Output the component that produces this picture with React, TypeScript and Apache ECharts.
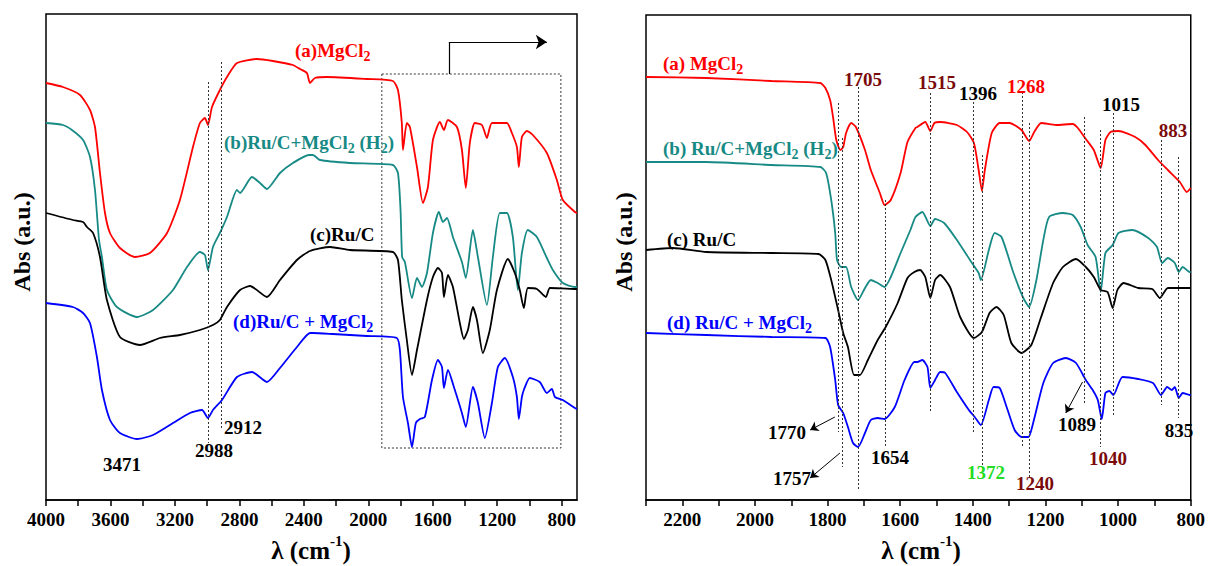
import React, { useEffect, useRef } from 'react';
import * as echarts from 'echarts';

type Pt = [number, number];

const FONT = "'Liberation Serif', 'Times New Roman', serif";
const RED = '#ff0000';
const TEAL = '#178a85';
const BLACK = '#000000';
const BLUE = '#0000ff';
const DARKRED = '#7a0a0a';
const GREEN = '#22dd22';

// tick labels
const leftTicks = [4000, 3600, 3200, 2800, 2400, 2000, 1600, 1200, 800];
const leftMinorTicks = [4000, 3800, 3600, 3400, 3200, 3000, 2800, 2600, 2400, 2200, 2000, 1800, 1600, 1400, 1200, 1000, 800];
const rightTicks = [2200, 2000, 1800, 1600, 1400, 1200, 1000, 800];
const rightMinorTicks = [2300, 2200, 2100, 2000, 1900, 1800, 1700, 1600, 1500, 1400, 1300, 1200, 1100, 1000, 900, 800];

// ---------- left panel spectra (wavenumber, absorbance a.u.) ----------
const redA_L: Pt[] = [
  [4000, 417], [3895, 413], [3789, 405], [3727, 390], [3696, 373], [3665, 327], [3634, 287], [3603, 267],
  [3541, 252], [3448, 243], [3355, 247], [3249, 267], [3169, 300], [3088, 353], [3045, 377], [3014, 382],
  [2995, 375], [2970, 393], [2921, 410], [2877, 423], [2815, 437], [2691, 441], [2592, 439], [2468, 435],
  [2424, 431], [2381, 427], [2362, 417], [2331, 422], [2257, 423], [2009, 421], [1847, 419], [1816, 410],
  [1792, 377], [1785, 350], [1761, 377], [1742, 373], [1698, 333], [1661, 297], [1630, 313], [1599, 360],
  [1556, 378], [1531, 370], [1506, 380], [1450, 373], [1419, 350], [1395, 312], [1370, 357], [1339, 377],
  [1295, 375], [1264, 362], [1233, 377], [1140, 377], [1109, 367], [1078, 353], [1066, 333], [1047, 363],
  [1016, 369], [979, 365], [892, 347], [830, 320], [793, 300], [718, 288], [705, 287],
];
const tealB_L: Pt[] = [
  [4000, 377], [3895, 375], [3839, 370], [3770, 360], [3727, 343], [3696, 310], [3671, 260], [3653, 243],
  [3622, 210], [3560, 193], [3435, 183], [3336, 190], [3212, 210], [3125, 233], [3045, 248], [3014, 245],
  [2995, 230], [2964, 253], [2921, 267], [2877, 283], [2815, 310], [2796, 307], [2722, 323], [2672, 317],
  [2629, 311], [2548, 327], [2468, 337], [2368, 345], [2344, 345], [2300, 340], [2114, 337], [1847, 335],
  [1816, 327], [1800, 290], [1790, 243], [1773, 238], [1729, 202], [1698, 222], [1667, 213], [1636, 227],
  [1599, 267], [1562, 288], [1537, 278], [1512, 282], [1475, 263], [1419, 238], [1395, 222], [1351, 270],
  [1320, 243], [1264, 195], [1227, 243], [1184, 287], [1140, 287], [1103, 263], [1072, 210], [1047, 247],
  [1010, 270], [954, 263], [892, 242], [855, 230], [793, 217], [718, 213], [705, 213],
];
const blackC_L: Pt[] = [
  [4000, 287], [3833, 280], [3770, 278], [3746, 273], [3708, 267], [3665, 243], [3622, 200], [3541, 163],
  [3417, 155], [3293, 162], [3169, 165], [3045, 170], [2964, 175], [2921, 180], [2877, 193], [2796, 210],
  [2734, 214], [2629, 203], [2548, 220], [2443, 240], [2362, 249], [2238, 253], [2114, 250], [1847, 248],
  [1816, 240], [1792, 200], [1761, 160], [1729, 125], [1698, 150], [1636, 200], [1599, 223], [1568, 232],
  [1543, 227], [1531, 203], [1506, 225], [1475, 213], [1432, 177], [1407, 161], [1382, 170], [1351, 193],
  [1326, 180], [1289, 147], [1246, 170], [1202, 210], [1134, 241], [1091, 227], [1060, 210], [1035, 192],
  [1010, 212], [954, 211], [898, 203], [873, 212], [718, 211], [705, 211],
];
const blueD_L: Pt[] = [
  [4000, 197], [3833, 193], [3770, 187], [3727, 177], [3684, 143], [3653, 110], [3603, 80], [3541, 67],
  [3435, 61], [3336, 65], [3212, 77], [3107, 87], [3032, 90], [2995, 82], [2964, 90], [2908, 100],
  [2815, 123], [2722, 128], [2629, 118], [2548, 132], [2443, 153], [2362, 167], [2344, 167], [2220, 166],
  [2009, 164], [1823, 162], [1804, 150], [1785, 103], [1754, 77], [1729, 53], [1705, 77], [1680, 81],
  [1649, 83], [1605, 120], [1568, 140], [1543, 133], [1531, 112], [1506, 130], [1463, 110], [1419, 87],
  [1395, 73], [1351, 113], [1320, 97], [1277, 62], [1233, 97], [1196, 133], [1153, 142], [1103, 123],
  [1078, 103], [1066, 81], [1047, 103], [1035, 110], [998, 122], [936, 118], [892, 107], [861, 111],
  [842, 103], [793, 100], [718, 92], [705, 91],
];

// ---------- right panel spectra ----------
const redA_R: Pt[] = [
  [2300, 423], [2134, 422], [1954, 419], [1820, 417], [1806, 412], [1793, 400], [1785, 383], [1776, 360],
  [1765, 350], [1757, 353], [1749, 367], [1735, 377], [1722, 373], [1697, 350], [1681, 330], [1656, 307],
  [1643, 295], [1626, 300], [1599, 327], [1580, 358], [1558, 372], [1553, 373], [1531, 378], [1517, 369],
  [1506, 377], [1490, 378], [1444, 375], [1416, 368], [1397, 357], [1384, 330], [1375, 309], [1367, 330],
  [1348, 367], [1326, 377], [1299, 377], [1266, 370], [1245, 359], [1231, 368], [1212, 377], [1171, 375],
  [1125, 376], [1111, 372], [1089, 361], [1067, 350], [1048, 332], [1035, 360], [1021, 368], [999, 369],
  [953, 363], [925, 355], [890, 340], [863, 330], [830, 318], [811, 308], [800, 312],
];
const tealB_R: Pt[] = [
  [2300, 338], [2134, 338], [1954, 335], [1820, 333], [1804, 327], [1790, 300], [1779, 267], [1774, 240],
  [1763, 233], [1749, 233], [1735, 213], [1716, 200], [1697, 212], [1681, 220], [1662, 217], [1643, 213],
  [1626, 223], [1599, 247], [1572, 270], [1558, 283], [1539, 288], [1517, 274], [1504, 281], [1479, 277],
  [1444, 260], [1408, 240], [1384, 227], [1378, 220], [1356, 250], [1340, 267], [1321, 263], [1288, 227],
  [1261, 202], [1245, 193], [1225, 220], [1206, 260], [1190, 283], [1152, 287], [1125, 285], [1103, 273],
  [1084, 255], [1062, 243], [1048, 208], [1035, 247], [1015, 255], [999, 267], [961, 270], [917, 262],
  [893, 253], [879, 237], [863, 242], [844, 237], [833, 228], [822, 233], [803, 228], [800, 228],
];
const blackC_R: Pt[] = [
  [2300, 250], [2226, 252], [2134, 248], [1954, 247], [1825, 246], [1806, 240], [1790, 220], [1771, 190],
  [1757, 167], [1744, 153], [1727, 125], [1711, 125], [1689, 140], [1662, 160], [1640, 173], [1607, 197],
  [1580, 222], [1561, 228], [1545, 230], [1531, 223], [1517, 202], [1504, 220], [1490, 225], [1463, 213],
  [1435, 183], [1397, 162], [1375, 168], [1354, 187], [1335, 193], [1315, 185], [1294, 157], [1266, 147],
  [1239, 155], [1212, 183], [1179, 217], [1152, 233], [1116, 241], [1089, 233], [1067, 223], [1048, 210],
  [1029, 208], [1015, 192], [1002, 210], [985, 217], [945, 212], [906, 211], [885, 202], [863, 212],
  [803, 212], [800, 212],
];
const blueD_R: Pt[] = [
  [2300, 167], [2134, 165], [1954, 163], [1806, 162], [1793, 153], [1779, 120], [1771, 95], [1757, 87],
  [1744, 73], [1730, 57], [1716, 53], [1697, 67], [1681, 80], [1662, 82], [1643, 81], [1615, 93],
  [1588, 120], [1561, 138], [1553, 138], [1539, 140], [1525, 133], [1517, 112], [1504, 120], [1490, 128],
  [1476, 127], [1444, 108], [1411, 90], [1395, 83], [1378, 75], [1356, 100], [1343, 113], [1326, 112],
  [1307, 93], [1285, 70], [1266, 63], [1247, 63], [1234, 77], [1206, 117], [1179, 137], [1144, 142],
  [1116, 137], [1089, 120], [1070, 110], [1056, 100], [1045, 81], [1035, 107], [1024, 109], [1013, 105],
  [988, 123], [945, 121], [904, 117], [882, 105], [865, 113], [852, 110], [844, 113], [833, 102],
  [822, 107], [803, 105], [800, 105],
];

// dotted guide lines: [wavenumber, yTop, yBottom]
const leftGuides: [number, number, number][] = [[2993, 418, 57], [2914, 438, 72]];
const rightGuides: [number, number, number][] = [
  [1771, 397, 68], [1760, 362, 33], [1716, 413, 10], [1640, 300, 53], [1518, 407, 88], [1400, 398, 68],
  [1375, 345, 33], [1264, 408, 52], [1245, 377, 23], [1092, 383, 97], [1048, 370, 53], [1014, 387, 83],
  [882, 360, 95], [835, 343, 82],
];
// zoomed region box on the left panel: [wnStart, yTop, wnEnd, yBottom]
const leftBox: [number, number, number, number] = [1916, 426, 805, 52];
// annotation arrows on the right panel: [fromWn, fromY, toWn, toY]
const rightArrows: [number, number, number, number][] = [
  [1780, 83, 1848, 70], [1766, 47, 1848, 22], [1098, 118, 1144, 87],
];

const richBase = (size: number, color: string) => ({
  n: { fontSize: size, fontWeight: 'bold', fontFamily: FONT, fill: color, lineHeight: size + 8, verticalAlign: 'middle' },
  s: { fontSize: Math.round(size * 0.75), fontWeight: 'bold', fontFamily: FONT, fill: color, verticalAlign: 'bottom' },
  p: { fontSize: Math.round(size * 0.6), fontWeight: 'bold', fontFamily: FONT, fill: color, verticalAlign: 'top' },
});

const txt = (x: number, y: number, text: string, color: string, align = 'center', size = 19, rotation = 0) => ({
  type: 'text',
  x,
  y,
  z: 100,
  rotation,
  style: {
    text,
    align,
    verticalAlign: 'middle',
    rich: richBase(size, color),
  },
});

const lineSeries = (name: string, data: Pt[], color: string, idx: number, extra: any = {}) => ({
  name,
  type: 'line',
  data,
  xAxisIndex: idx,
  yAxisIndex: idx,
  showSymbol: false,
  smooth: 0.2,
  lineStyle: { color, width: 1.8 },
  itemStyle: { color },
  silent: true,
  z: 3,
  ...extra,
});

const guideMarkLine = (guides: [number, number, number][]) => ({
  silent: true,
  symbol: 'none',
  label: { show: false },
  lineStyle: { color: '#333', width: 1, type: [2, 2] },
  data: guides.map(([w, a, b]) => [{ coord: [w, a] }, { coord: [w, b] }]),
});

export default function App() {
  const ref = useRef<HTMLDivElement>(null);
  useEffect(() => {
    document.body.style.margin = '0';
    const chart = echarts.init(ref.current!, null, { renderer: 'svg' });
    const axisLabel = {
      color: '#000', fontFamily: FONT, fontWeight: 'bold', fontSize: 19, margin: 10,
      formatter: (v: number) => String(v),
    };
    const axisLine = { show: true, onZero: false, lineStyle: { color: '#000', width: 1.5 } };
    const option: any = {
      animation: false,
      backgroundColor: '#fff',
      grid: [
        { left: 46, top: 14, width: 531, height: 486, show: true, borderColor: '#000', borderWidth: 1.5 },
        { left: 646, top: 15, width: 550, height: 485, show: true, borderColor: '#000', borderWidth: 1.5 },
      ],
      xAxis: [
        {
          gridIndex: 0, type: 'value', inverse: true, min: 705, max: 4000,
          axisLine,
          axisTick: { show: true, length: 6, customValues: leftMinorTicks, lineStyle: { color: '#000', width: 1.5 } },
          axisLabel: { ...axisLabel, customValues: leftTicks },
          splitLine: { show: false },
        },
        {
          gridIndex: 1, type: 'value', inverse: true, min: 800, max: 2300,
          axisLine,
          axisTick: { show: true, length: 6, customValues: rightMinorTicks, lineStyle: { color: '#000', width: 1.5 } },
          axisLabel: { ...axisLabel, customValues: rightTicks },
          splitLine: { show: false },
        },
      ],
      yAxis: [
        { gridIndex: 0, type: 'value', min: 0, max: 486, axisLine: { show: false }, axisTick: { show: false }, axisLabel: { show: false }, splitLine: { show: false } },
        { gridIndex: 1, type: 'value', min: 0, max: 485, axisLine: { show: false }, axisTick: { show: false }, axisLabel: { show: false }, splitLine: { show: false } },
      ],
      series: [
        lineSeries('(a)MgCl2', redA_L, RED, 0, {
          markLine: {
            silent: true,
            label: { show: false },
            lineStyle: { color: '#000', width: 1.2, type: 'solid' },
            data: [
              [{ coord: [1500, leftBox[1]], symbol: 'none' }, { coord: [1500, 458], symbol: 'none' }],
              [{ coord: [1500, 458], symbol: 'none' }, { coord: [892, 458], symbol: 'arrow', symbolSize: 11 }],
            ],
          },
        }),
        lineSeries('(b)Ru/C+MgCl2 (H2)', tealB_L, TEAL, 0),
        lineSeries('(c)Ru/C', blackC_L, BLACK, 0, {
          markLine: guideMarkLine(leftGuides),
          markArea: {
            silent: true,
            itemStyle: { color: 'rgba(0,0,0,0)', borderColor: '#333', borderWidth: 1, borderType: [2, 2] },
            data: [[{ coord: [leftBox[0], leftBox[1]] }, { coord: [leftBox[2], leftBox[3]] }]],
          },
        }),
        lineSeries('(d)Ru/C + MgCl2', blueD_L, BLUE, 0),
        lineSeries('(a) MgCl2', redA_R, RED, 1, {
          markLine: {
            silent: true,
            label: { show: false },
            lineStyle: { color: '#000', width: 1, type: 'solid' },
            data: rightArrows.map(([a, b, c, d]) => [
              { coord: [a, b], symbol: 'none' },
              { coord: [c, d], symbol: 'arrow', symbolSize: 8 },
            ]),
          },
        }),
        lineSeries('(b) Ru/C+MgCl2 (H2)', tealB_R, TEAL, 1),
        lineSeries('(c) Ru/C', blackC_R, BLACK, 1, { markLine: guideMarkLine(rightGuides) }),
        lineSeries('(d) Ru/C + MgCl2', blueD_R, BLUE, 1),
      ],
      graphic: [
        // axis titles
        txt(22, 242, '{n|Abs (a.u.)}', BLACK, 'center', 24, Math.PI / 2),
        txt(624, 242, '{n|Abs (a.u.)}', BLACK, 'center', 24, Math.PI / 2),
        txt(311, 550, '{n|λ (cm}{p|-1}{n|)}', BLACK, 'center', 25),
        txt(921, 550, '{n|λ (cm}{p|-1}{n|)}', BLACK, 'center', 25),
        // left panel labels
        txt(295, 50, '{n|(a)MgCl}{s|2}', RED, 'left', 19),
        txt(224, 142, '{n|(b)Ru/C+MgCl}{s|2}{n| (H}{s|2}{n|)}', TEAL, 'left', 19),
        txt(310, 234, '{n|(c)Ru/C}', BLACK, 'left', 19),
        txt(233, 321, '{n|(d)Ru/C + MgCl}{s|2}', BLUE, 'left', 19),
        txt(122, 464, '{n|3471}', BLACK),
        txt(214, 450, '{n|2988}', BLACK),
        txt(243, 427, '{n|2912}', BLACK),
        // right panel labels
        txt(663, 63, '{n|(a) MgCl}{s|2}', RED, 'left', 19),
        txt(663, 148, '{n|(b) Ru/C+MgCl}{s|2}{n| (H}{s|2}{n|)}', TEAL, 'left', 19),
        txt(667, 239, '{n|(c) Ru/C}', BLACK, 'left', 19),
        txt(667, 322, '{n|(d) Ru/C + MgCl}{s|2}', BLUE, 'left', 19),
        txt(863, 79, '{n|1705}', DARKRED),
        txt(937, 82, '{n|1515}', DARKRED),
        txt(978, 93, '{n|1396}', BLACK),
        txt(1026, 86, '{n|1268}', RED),
        txt(1121, 104, '{n|1015}', BLACK),
        txt(1173, 130, '{n|883}', DARKRED),
        txt(787, 432, '{n|1770}', BLACK),
        txt(792, 478, '{n|1757}', BLACK),
        txt(890, 457, '{n|1654}', BLACK),
        txt(986, 472, '{n|1372}', GREEN),
        txt(1035, 483, '{n|1240}', DARKRED),
        txt(1077, 424, '{n|1089}', BLACK),
        txt(1108, 458, '{n|1040}', DARKRED),
        txt(1179, 430, '{n|835}', BLACK),
      ],
    };
    chart.setOption(option);
    return () => chart.dispose();
  }, []);
  return <div ref={ref} style={{ width: 1208, height: 566 }} />;
}
